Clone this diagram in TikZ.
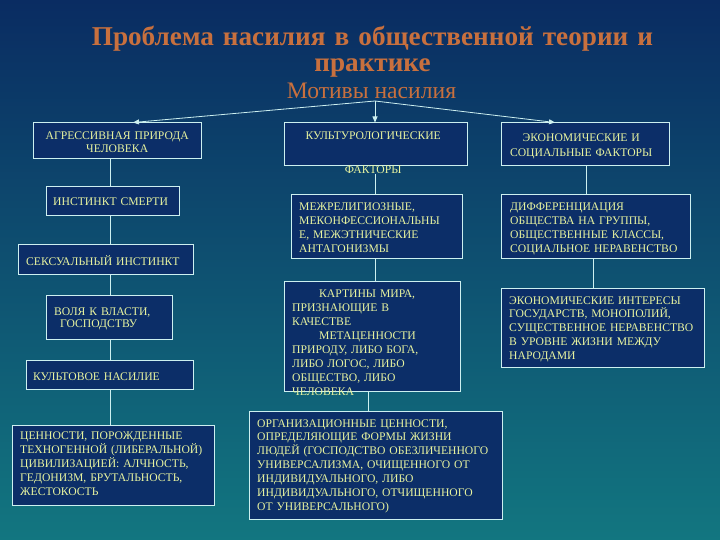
\documentclass[tikz,border=0pt]{standalone}
\usepackage{fontspec}
\setmainfont{Liberation Serif}
\usetikzlibrary{arrows.meta,fit,calc}
\definecolor{bgTop}{RGB}{10,44,98}
\definecolor{bgMid}{RGB}{12,84,116}
\definecolor{bgBot}{RGB}{18,118,128}
\definecolor{bFill}{RGB}{12,46,104}
\definecolor{bLine}{RGB}{205,240,240}
\definecolor{bText}{RGB}{232,244,160}
\definecolor{tOrange}{RGB}{200,112,62}
\tikzset{
  fbox/.style={rectangle, draw=bLine, fill=bFill, line width=1bp, inner sep=0pt},
  ftxt/.style={text=bText, inner sep=0pt, font=\fontsize{11.7}{14}\selectfont},
  link/.style={draw=bLine, line width=0.8bp},
  arr/.style={link, -{Triangle[length=6bp,width=5bp]}},
  ttl/.style={text=tOrange, inner sep=0pt, align=center, text width=700bp,
              font=\fontsize{27.3}{26}\selectfont\bfseries},
  sub/.style={text=tOrange, inner sep=0pt, font=\fontsize{23.7}{26}\selectfont},
}
% box from two corners + its text, first baseline at #5
\newcommand{\FactBox}[7][left]{%
  \node[fbox, fit={(#3) (#4)}] (#2) {};
  \node[ftxt, align=#1, text width=#6, anchor=base west] (#2-t) at (#5) {#7};}

\begin{document}
\begin{tikzpicture}[x=1bp, y=-1bp]
  \useasboundingbox (0,0) rectangle (720,540);
  \shade[top color=bgTop, middle color=bgMid, bottom color=bgBot] (0,0) rectangle (720,540);

  %====================== TITLE ======================
  \node[ttl, anchor=base] (title) at (372.5,46)
    {Проблема насилия в общественной теории и\\практике};
  \node[sub, anchor=base] (motiv) at (371.5,99) {Мотивы насилия};
  \coordinate (root) at (375,101);

  %====================== LEFT COLUMN ======================
  \FactBox[center]{agr}{33,123}{201,159}{37,139.5}{160bp}{%
    АГРЕССИВНАЯ ПРИРОДА\\[-1bp]ЧЕЛОВЕКА}
  \FactBox{smert}{46,187}{179,216}{53,205.5}{300bp}{ИНСТИНКТ СМЕРТИ}
  \FactBox{seks}{18,245}{193,274}{26,265.5}{300bp}{СЕКСУАЛЬНЫЙ ИНСТИНКТ}
  \FactBox{volya}{46,295}{172,339}{54,315}{300bp}{%
    ВОЛЯ К ВЛАСТИ,\\[-1.5bp]\hspace*{6bp}ГОСПОДСТВУ}
  \FactBox{kultnas}{26,360}{193,389}{33,380.5}{300bp}{КУЛЬТОВОЕ НАСИЛИЕ}
  \FactBox{cenn}{12,425}{214,505}{20,439.5}{300bp}{%
    ЦЕННОСТИ, ПОРОЖДЕННЫЕ\\
    ТЕХНОГЕННОЙ (ЛИБЕРАЛЬНОЙ)\\
    ЦИВИЛИЗАЦИЕЙ: АЛЧНОСТЬ,\\
    ГЕДОНИЗМ, БРУТАЛЬНОСТЬ,\\
    ЖЕСТОКОСТЬ}

  %====================== MIDDLE COLUMN ======================
  \FactBox[center]{kult}{284,123}{467,166}{288,140}{170bp}{%
    КУЛЬТУРОЛОГИЧЕСКИЕ\\[19.5bp]ФАКТОРЫ}
  \FactBox{mezh}{291,195}{462,259}{299,211}{300bp}{%
    МЕЖРЕЛИГИОЗНЫЕ,\\
    МЕКОНФЕССИОНАЛЬНЫ\\
    Е, МЕЖЭТНИЧЕСКИЕ\\
    АНТАГОНИЗМЫ}
  \FactBox{kart}{284,281}{460,391}{292,297.5}{300bp}{%
    \hspace*{27bp}КАРТИНЫ МИРА,\\
    ПРИЗНАЮЩИЕ В\\
    КАЧЕСТВЕ\\
    \hspace*{27bp}МЕТАЦЕННОСТИ\\
    ПРИРОДУ, ЛИБО БОГА,\\
    ЛИБО ЛОГОС, ЛИБО\\
    ОБЩЕСТВО, ЛИБО\\
    ЧЕЛОВЕКА}
  \FactBox{org}{249,411}{502,519}{257,427}{300bp}{%
    ОРГАНИЗАЦИОННЫЕ ЦЕННОСТИ,\\
    ОПРЕДЕЛЯЮЩИЕ ФОРМЫ ЖИЗНИ\\
    ЛЮДЕЙ (ГОСПОДСТВО ОБЕЗЛИЧЕННОГО\\
    УНИВЕРСАЛИЗМА, ОЧИЩЕННОГО ОТ\\
    ИНДИВИДУАЛЬНОГО, ЛИБО\\
    ИНДИВИДУАЛЬНОГО, ОТЧИЩЕННОГО\\
    ОТ УНИВЕРСАЛЬНОГО)}

  %====================== RIGHT COLUMN ======================
  \FactBox[center]{econ}{501,123}{669,166}{506,141.5}{150bp}{%
    ЭКОНОМИЧЕСКИЕ И\\[1.5bp]СОЦИАЛЬНЫЕ ФАКТОРЫ}
  \FactBox{diff}{501,195}{690,259}{510,211}{300bp}{%
    ДИФФЕРЕНЦИАЦИЯ\\
    ОБЩЕСТВА НА ГРУППЫ,\\
    ОБЩЕСТВЕННЫЕ КЛАССЫ,\\
    СОЦИАЛЬНОЕ НЕРАВЕНСТВО}
  \FactBox{inter}{501,288}{704,367}{509,304}{300bp}{%
    ЭКОНОМИЧЕСКИЕ ИНТЕРЕСЫ\\
    ГОСУДАРСТВ, МОНОПОЛИЙ,\\
    СУЩЕСТВЕННОЕ НЕРАВЕНСТВО\\
    В УРОВНЕ ЖИЗНИ МЕЖДУ\\
    НАРОДАМИ}

  %====================== LINKS ======================
  \coordinate (lx) at (110,0);
  \coordinate (mx) at (375,0);
  \coordinate (mx2) at (368,0);
  \coordinate (rx) at (586,0);
  \coordinate (rx2) at (593,0);

  \draw[arr] (root) -- ([xshift=16bp]agr.north);
  \draw[arr] (root) -- (kult.north -| mx);
  \draw[arr] (root) -- ([xshift=-30bp]econ.north);

  \draw[link] (agr.south -| lx) -- (smert.north -| lx);
  \draw[link] (smert.south -| lx) -- (seks.north -| lx);
  \draw[link] (seks.south -| lx) -- (volya.north -| lx);
  \draw[link] (volya.south -| lx) -- (kultnas.north -| lx);
  \draw[link] (kultnas.south -| lx) -- (cenn.north -| lx);

  \draw[link] (kult-t.south -| mx) -- (mezh.north -| mx);
  \draw[link] (mezh.south -| mx) -- (kart.north -| mx);
  \draw[link] (kart.south -| mx2) -- (org.north -| mx2);

  \draw[link] (econ.south -| rx) -- (diff.north -| rx);
  \draw[link] (diff.south -| rx2) -- (inter.north -| rx2);
\end{tikzpicture}
\end{document}
